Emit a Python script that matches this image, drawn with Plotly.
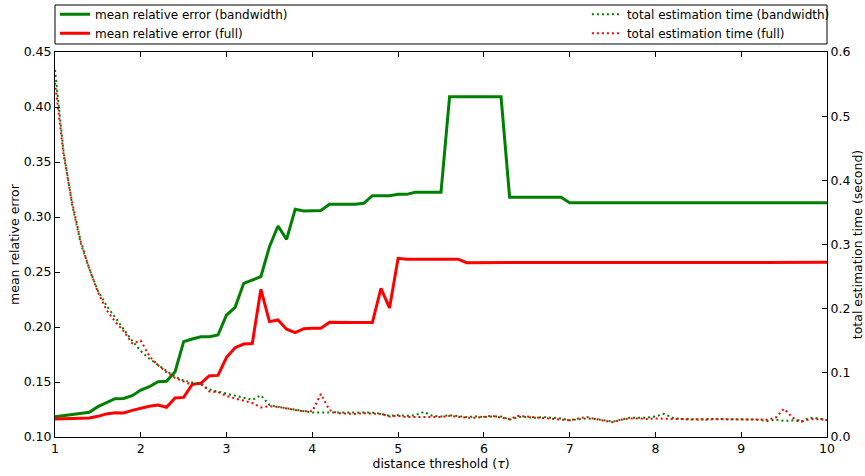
import plotly.graph_objects as go

# distance threshold grid (tau = 1.0, 1.1, ..., 10.0)
tau = [round(1 + 0.1 * i, 1) for i in range(91)]

# mean relative error, bandwidth-limited estimation
err_bandwidth = [
    0.1185, 0.1194, 0.1203, 0.1210, 0.1224, 0.1276, 0.1312, 0.1348, 0.1350, 0.1376,
    0.1427, 0.1457, 0.1503, 0.1506, 0.1594, 0.1867, 0.1891, 0.1912, 0.1912, 0.1927,
    0.2109, 0.2179, 0.2397, 0.2427, 0.2457, 0.2730, 0.2918, 0.2797, 0.3070, 0.3055,
    0.3060, 0.3060, 0.3115, 0.3115, 0.3115, 0.3115, 0.3125, 0.3194, 0.3194, 0.3194,
    0.3206, 0.3206, 0.3225, 0.3225, 0.3225, 0.3225, 0.4094, 0.4094, 0.4094, 0.4094,
    0.4094, 0.4093, 0.4093, 0.3180, 0.3180, 0.3180, 0.3180, 0.3180, 0.3180, 0.3180,
    0.3130, 0.3130, 0.3130, 0.3130, 0.3130, 0.3130, 0.3130, 0.3130, 0.3130, 0.3130,
    0.3130, 0.3130, 0.3130, 0.3130, 0.3130, 0.3130, 0.3130, 0.3130, 0.3130, 0.3130,
    0.3130, 0.3130, 0.3130, 0.3130, 0.3130, 0.3130, 0.3130, 0.3130, 0.3130, 0.3130,
    0.3130,
]

# mean relative error, full estimation
err_full = [
    0.1164, 0.1167, 0.1170, 0.1170, 0.1173, 0.1188, 0.1210, 0.1220, 0.1218, 0.1242,
    0.1260, 0.1280, 0.1290, 0.1270, 0.1355, 0.1360, 0.1479, 0.1488, 0.1557, 0.1560,
    0.1724, 0.1812, 0.1845, 0.1850, 0.2343, 0.2049, 0.2064, 0.1980, 0.1948, 0.1985,
    0.1988, 0.1988, 0.2043, 0.2040, 0.2040, 0.2040, 0.2040, 0.2040, 0.2351, 0.2173,
    0.2624, 0.2617, 0.2617, 0.2617, 0.2617, 0.2617, 0.2617, 0.2617, 0.2585, 0.2585,
    0.2585, 0.2585, 0.2585, 0.2585, 0.2585, 0.2585, 0.2585, 0.2585, 0.2585, 0.2585,
    0.2588, 0.2588, 0.2588, 0.2588, 0.2588, 0.2588, 0.2588, 0.2588, 0.2588, 0.2588,
    0.2588, 0.2588, 0.2588, 0.2588, 0.2588, 0.2588, 0.2588, 0.2588, 0.2588, 0.2588,
    0.2588, 0.2588, 0.2588, 0.2588, 0.2588, 0.2588, 0.2588, 0.2588, 0.2588, 0.2588,
    0.2588,
]

# total estimation time in seconds, bandwidth-limited
time_bandwidth = [
    0.572, 0.445, 0.362, 0.302, 0.262, 0.228, 0.205, 0.186, 0.168, 0.150,
    0.134, 0.122, 0.112, 0.103, 0.094, 0.088, 0.085, 0.082, 0.074, 0.071,
    0.068, 0.064, 0.061, 0.058, 0.065, 0.050, 0.047, 0.045, 0.043, 0.041,
    0.038, 0.038, 0.038, 0.037, 0.037, 0.038, 0.037, 0.038, 0.036, 0.033,
    0.034, 0.033, 0.034, 0.039, 0.033, 0.032, 0.034, 0.032, 0.031, 0.032,
    0.031, 0.032, 0.032, 0.027, 0.031, 0.031, 0.030, 0.031, 0.030, 0.029,
    0.026, 0.028, 0.029, 0.028, 0.026, 0.024, 0.027, 0.030, 0.030, 0.030,
    0.032, 0.036, 0.030, 0.028, 0.028, 0.027, 0.028, 0.028, 0.027, 0.028,
    0.028, 0.028, 0.027, 0.025, 0.027, 0.025, 0.026, 0.024, 0.030, 0.029,
    0.026,
]

# total estimation time in seconds, full
time_full = [
    0.552, 0.440, 0.365, 0.305, 0.262, 0.226, 0.198, 0.180, 0.165, 0.146,
    0.150, 0.126, 0.112, 0.101, 0.092, 0.087, 0.081, 0.084, 0.071, 0.070,
    0.064, 0.060, 0.057, 0.053, 0.046, 0.048, 0.047, 0.044, 0.042, 0.040,
    0.040, 0.067, 0.042, 0.037, 0.036, 0.036, 0.037, 0.036, 0.036, 0.032,
    0.033, 0.031, 0.031, 0.031, 0.031, 0.031, 0.033, 0.031, 0.030, 0.030,
    0.031, 0.033, 0.030, 0.028, 0.033, 0.032, 0.030, 0.030, 0.029, 0.028,
    0.026, 0.029, 0.031, 0.028, 0.026, 0.023, 0.027, 0.029, 0.029, 0.028,
    0.029, 0.028, 0.028, 0.028, 0.027, 0.028, 0.027, 0.028, 0.028, 0.027,
    0.028, 0.027, 0.027, 0.027, 0.030, 0.044, 0.030, 0.024, 0.028, 0.028,
    0.027,
]

x_ticks = [1, 2, 3, 4, 5, 6, 7, 8, 9, 10]
err_ticks = [0.10, 0.15, 0.20, 0.25, 0.30, 0.35, 0.40, 0.45]
time_ticks = [0.0, 0.1, 0.2, 0.3, 0.4, 0.5, 0.6]

GREEN = "#008000"
RED = "#ff0000"
FONT = "DejaVu Sans"

fig = go.Figure()

fig.add_trace(go.Scatter(
    x=tau, y=err_bandwidth, mode="lines", name="mean relative error (bandwidth)",
    line=dict(color=GREEN, width=3), legend="legend"))
fig.add_trace(go.Scatter(
    x=tau, y=err_full, mode="lines", name="mean relative error (full)",
    line=dict(color=RED, width=3), legend="legend"))
fig.add_trace(go.Scatter(
    x=tau, y=time_bandwidth, mode="lines", name="total estimation time (bandwidth)",
    line=dict(color=GREEN, width=2, dash="2px,3px"), yaxis="y2", legend="legend2"))
fig.add_trace(go.Scatter(
    x=tau, y=time_full, mode="lines", name="total estimation time (full)",
    line=dict(color=RED, width=2, dash="2px,3px"), yaxis="y2", legend="legend2"))

axis_common = dict(
    showgrid=False, zeroline=False, showline=True, linecolor="black", linewidth=1,
    ticks="inside", ticklen=5, tickcolor="black", tickwidth=1, automargin=False,
    tickfont=dict(family=FONT, size=12.5, color="black"),
)

legend_common = dict(
    orientation="v", xanchor="left", yanchor="top", y=1.136,
    bgcolor="rgba(0,0,0,0)", borderwidth=0,
    font=dict(family=FONT, size=12, color="black"),
    tracegroupgap=0, itemwidth=30,
)

fig.update_layout(
    width=865, height=476,
    margin=dict(l=55, r=38, t=52, b=39, autoexpand=False),
    paper_bgcolor="white", plot_bgcolor="white",
    font=dict(family=FONT, size=12.5, color="black"),
    xaxis=dict(
        range=[1, 10], tickvals=x_ticks, mirror="ticks",
        title=dict(text="distance threshold (<i>τ</i>)", standoff=4,
                   font=dict(family=FONT, size=12.5, color="black")),
        **axis_common),
    yaxis=dict(
        range=[0.10, 0.45], tickvals=err_ticks, tickformat=".2f",
        title=dict(text="mean relative error", standoff=1,
                   font=dict(family=FONT, size=12.5, color="black")),
        **axis_common),
    yaxis2=dict(
        range=[0.0, 0.6], tickvals=time_ticks, tickformat=".1f",
        overlaying="y", side="right",
        title=dict(text="total estimation time (second)", standoff=4,
                   font=dict(family=FONT, size=12.5, color="black")),
        **axis_common),
    legend=dict(x=0.0, **legend_common),
    legend2=dict(x=0.689, **legend_common),
    shapes=[dict(
        type="rect", xref="paper", yref="paper",
        x0=0, x1=1, y0=1.0208, y1=1.122,
        line=dict(color="black", width=1), fillcolor="rgba(0,0,0,0)", layer="above")],
)

fig.write_html("out.html")
